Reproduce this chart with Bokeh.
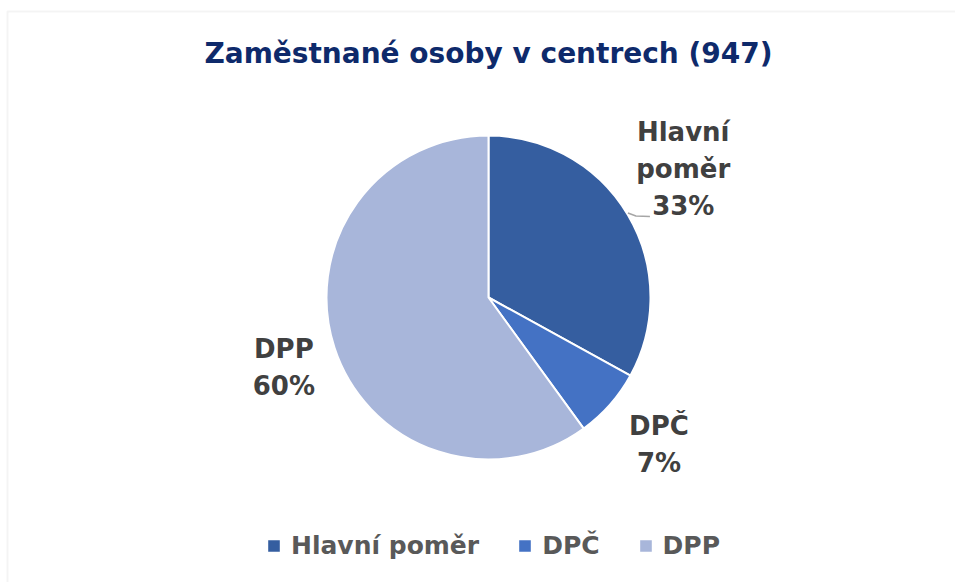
import math
from bokeh.plotting import figure
from bokeh.models import ColumnDataSource, Legend, LegendItem, BoxAnnotation, Range1d
from bokeh.core.properties import value
from bokeh.embed import file_html
from bokeh.resources import INLINE

# ---- data ----
title = "Zaměstnané osoby v centrech (947)"
categories = ["Hlavní poměr", "DPČ", "DPP"]
shares = [33, 7, 60]          # percent
label_names = ["Hlavní\npoměr", "DPČ", "DPP"]

# ---- style ----
colors = ["#355EA0", "#4472C4", "#A8B6DA"]
label_r_factor = [1.44, 1.39, 1.335]
label_angle_nudge = [2.8, 0.6, 0.9]   # degrees
W, H = 955, 582
CX, CY = 488, 297   # pie centre in screen px
R = 162
FONT = "DejaVu Sans"

# angles (clockwise from 12 o'clock)
total = sum(shares)
starts, ends, mids = [], [], []
cur = math.pi / 2
for s in shares:
    a = 2 * math.pi * s / total
    starts.append(cur - a)
    ends.append(cur)
    mids.append(cur - a / 2)
    cur -= a

src = ColumnDataSource(dict(cat=categories, start=starts, end=ends, color=colors))

p = figure(width=W, height=H, output_backend="svg", toolbar_location=None,
           x_range=Range1d(-CX, W - CX), y_range=Range1d(-(H - CY), CY),
           min_border=0, outline_line_color=None)
p.axis.visible = False
p.grid.visible = False
p.background_fill_color = "white"
p.border_fill_color = "white"

# chart frame
p.add_layout(BoxAnnotation(left=7 - CX, top=CY - 11, right=W + 50 - CX, bottom=-(H + 50 - CY),
                           fill_alpha=0, line_color="#D9D9D9", line_width=2))

wedges = p.wedge(x=0, y=0, radius=R, start_angle="start", end_angle="end",
                 direction="anticlock", fill_color="color", line_color="white",
                 line_width=2, source=src)

# data labels
lx, ly, ltxt = [], [], []
for name, s, m, f, n in zip(label_names, shares, mids, label_r_factor, label_angle_nudge):
    ang = m + math.radians(n)
    lx.append(R * f * math.cos(ang))
    ly.append(R * f * math.sin(ang))
    ltxt.append(f"{name}\n{s}%")
p.text(x=lx, y=ly, text=ltxt, text_align="center", text_baseline="middle",
       text_font=value(FONT), text_font_style="bold", text_font_size="26px",
       text_color="#404040", text_line_height=1.22)

# leader line for first slice
ex, ey = R * math.cos(mids[0]), R * math.sin(mids[0])
p.line(x=[ex, ex + 8, ex + 22], y=[ey + 2, ey - 1, ey - 1.5], line_color="#A6A6A6", line_width=1.5)

# title
p.text(x=[0], y=[CY - 53], text=[title], text_align="center", text_baseline="middle",
       text_font=value(FONT), text_font_style="bold", text_font_size="28px",
       text_color="#0E2A6B")

legend = Legend(items=[LegendItem(label=c, renderers=[wedges], index=i) for i, c in enumerate(categories)],
                orientation="horizontal", location=(265, 22),
                glyph_width=17, glyph_height=17, label_standoff=9, spacing=37,
                label_text_font=FONT, label_text_font_style="bold",
                label_text_font_size="25px", label_text_color="#595959",
                background_fill_alpha=0, border_line_alpha=0, padding=0, margin=0)
p.add_layout(legend, "center")

open("out.html", "w").write(file_html(p, INLINE))
